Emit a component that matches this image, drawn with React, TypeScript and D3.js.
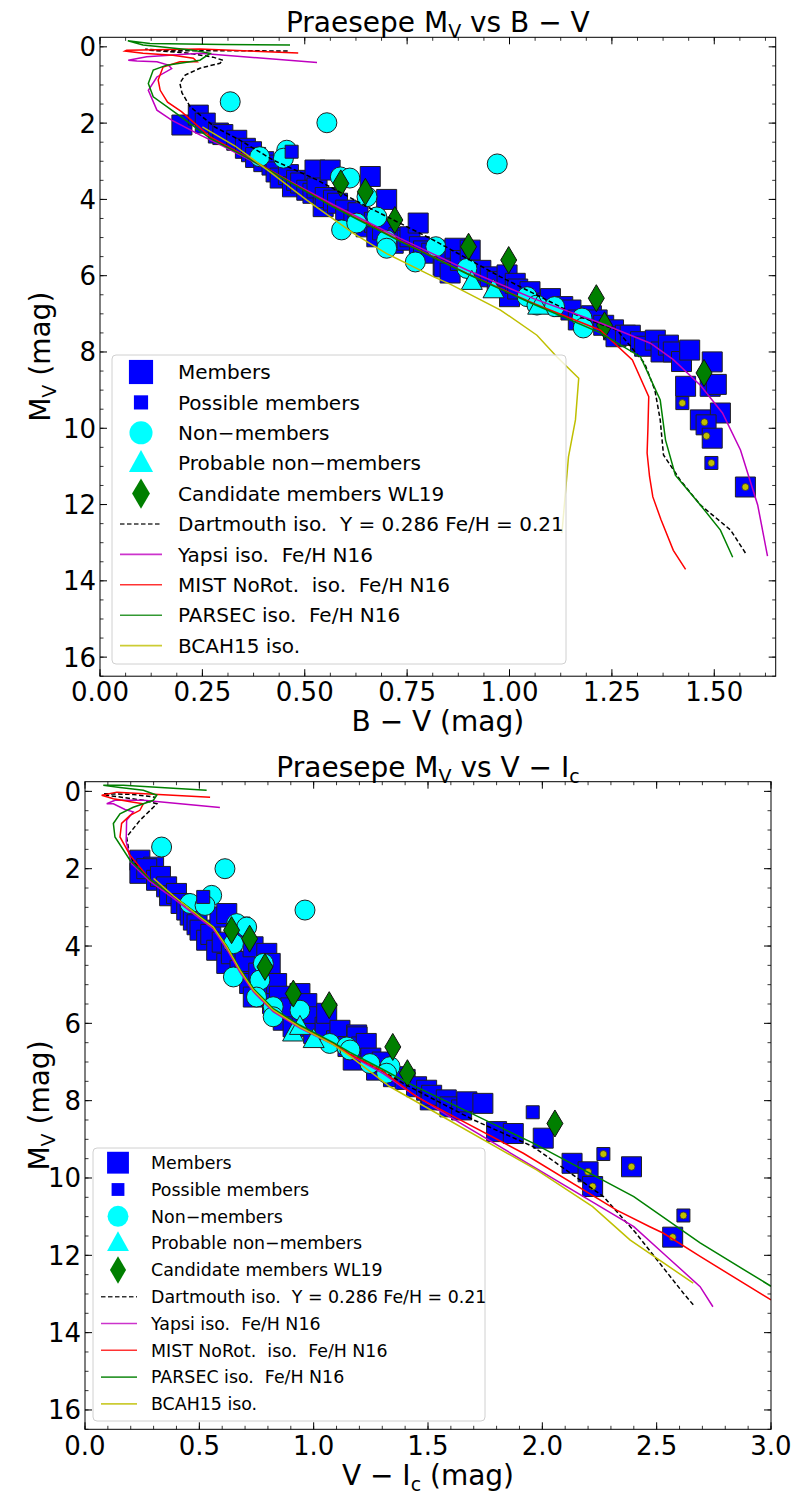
import React from 'react';
import * as d3 from 'd3';

type P = [number, number];

// ================= Top panel: B−V vs Mv =================
const bvMembers: P[] = [
  [0.20, 2.05], [0.24, 1.79], [0.257, 2.0], [0.289, 2.26], [0.30, 2.3], [0.334, 2.45], [0.355, 2.66],
  [0.37, 2.75], [0.38, 2.9], [0.40, 3.01], [0.42, 3.1], [0.43, 3.28], [0.44, 3.44], [0.46, 3.35],
  [0.47, 3.67], [0.48, 3.5], [0.49, 3.57], [0.505, 3.76], [0.52, 3.84], [0.525, 3.23], [0.53, 3.7],
  [0.545, 4.19], [0.55, 3.95], [0.562, 3.23], [0.57, 4.02], [0.58, 4.1], [0.60, 4.28], [0.62, 4.54],
  [0.63, 4.35], [0.65, 4.72], [0.66, 3.4], [0.67, 4.6], [0.676, 4.98], [0.69, 4.8], [0.70, 4.0],
  [0.716, 5.15], [0.73, 5.0], [0.75, 5.07], [0.757, 4.98], [0.777, 4.62], [0.78, 5.24], [0.79, 5.35],
  [0.81, 5.41], [0.838, 5.72], [0.84, 5.77], [0.847, 5.33], [0.855, 5.93], [0.867, 5.28], [0.88, 5.6],
  [0.904, 5.33], [0.92, 5.95], [0.93, 5.86], [0.953, 6.03], [0.97, 6.15], [0.994, 5.98], [1.0, 6.55],
  [1.014, 6.2], [1.02, 6.35], [1.05, 6.42], [1.088, 6.72], [1.10, 6.6], [1.13, 6.81], [1.15, 6.9],
  [1.168, 7.16], [1.20, 7.05], [1.214, 7.16], [1.23, 7.3], [1.254, 7.42], [1.26, 7.6], [1.283, 7.56],
  [1.295, 7.56], [1.32, 7.73], [1.33, 7.85], [1.356, 7.69], [1.37, 8.0], [1.388, 7.82], [1.40, 8.0],
  [1.42, 8.25], [1.44, 7.95], [1.495, 8.26], [1.43, 8.9], [1.49, 8.9], [1.505, 8.85], [1.515, 9.6],
  [1.466, 9.78], [1.48, 9.91], [1.495, 10.26], [1.576, 11.54],
];
const bvPossible: P[] = [[0.468, 2.75], [1.422, 9.34], [1.493, 10.91]];
const bvNonMembers: P[] = [
  [0.318, 1.44], [0.554, 1.99], [0.97, 3.07], [0.39, 2.88], [0.456, 2.71], [0.448, 2.92], [0.587, 3.41],
  [0.61, 3.44], [0.652, 3.93], [0.676, 4.46], [0.59, 4.80], [0.627, 4.62], [0.70, 5.07], [0.70, 5.28],
  [0.77, 5.64], [0.82, 5.24], [0.896, 5.81], [1.043, 6.55], [1.067, 6.77], [1.11, 6.81], [1.177, 7.11],
  [1.18, 7.37],
];
const bvProbable: P[] = [[0.908, 6.16], [0.961, 6.38], [1.07, 6.81]];
const bvCandidates: P[] = [
  [0.588, 3.58], [0.648, 3.8], [0.72, 4.54], [0.90, 5.24], [0.998, 5.59], [1.212, 6.59], [1.232, 7.3], [1.475, 8.55],
];
const bvFlagged: P[] = [[1.422, 9.34], [1.476, 9.84], [1.481, 10.2], [1.493, 10.91], [1.576, 11.54]];

const bvDartmouth: P[] = [
  [1.576, 13.27], [1.54, 12.67], [1.466, 12.01], [1.417, 11.36], [1.376, 10.7], [1.368, 9.78], [1.355, 9.0],
  [1.33, 8.3], [1.263, 7.43], [1.173, 7.08], [0.978, 6.03], [0.815, 5.07], [0.652, 4.19], [0.53, 3.49],
  [0.423, 2.97], [0.342, 2.45], [0.28, 2.1], [0.22, 1.57], [0.2, 1.2], [0.195, 0.95], [0.208, 0.74],
  [0.244, 0.56], [0.293, 0.43], [0.30, 0.35], [0.276, 0.27], [0.212, 0.16], [0.122, 0.09], [0.11, 0.06],
  [0.17, 0.1], [0.30, 0.1], [0.464, 0.11],
];
const bvYapsi: P[] = [
  [1.63, 13.35], [1.606, 12.01], [1.564, 10.57], [1.52, 9.6], [1.466, 8.87], [1.40, 8.2], [1.344, 7.77],
  [1.222, 7.24], [1.059, 6.6], [0.896, 5.85], [0.733, 5.02], [0.57, 4.14], [0.456, 3.48], [0.358, 2.92],
  [0.3, 2.6], [0.244, 2.31], [0.175, 1.92], [0.139, 1.66], [0.118, 1.14], [0.139, 0.79], [0.175, 0.57],
  [0.167, 0.48], [0.139, 0.39], [0.09, 0.37], [0.069, 0.35], [0.114, 0.26], [0.244, 0.17], [0.53, 0.41],
];
const bvMist: P[] = [
  [1.43, 13.7], [1.40, 13.2], [1.37, 12.4], [1.35, 11.8], [1.342, 11.27], [1.336, 10.65], [1.338, 10.0],
  [1.34, 9.17], [1.30, 8.21], [1.222, 7.43], [1.059, 6.73], [0.896, 5.94], [0.733, 5.08], [0.652, 4.63],
  [0.57, 4.19], [0.456, 3.49], [0.358, 2.88], [0.269, 2.36], [0.199, 1.7], [0.165, 1.45], [0.147, 1.14],
  [0.142, 0.87], [0.154, 0.53], [0.195, 0.39], [0.237, 0.39], [0.228, 0.30], [0.178, 0.22], [0.105, 0.17],
  [0.061, 0.11], [0.065, 0.09], [0.244, 0.06], [0.484, 0.16],
];
const bvParsec: P[] = [
  [1.545, 13.38], [1.515, 12.67], [1.466, 12.01], [1.405, 11.23], [1.381, 10.31], [1.368, 9.26],
  [1.32, 8.13], [1.222, 7.5], [1.059, 6.75], [0.896, 5.95], [0.733, 5.1], [0.57, 4.2], [0.456, 3.5],
  [0.358, 2.9], [0.269, 2.4], [0.187, 1.75], [0.13, 1.31], [0.118, 0.96], [0.13, 0.61], [0.163, 0.48],
  [0.244, 0.35], [0.269, 0.17], [0.228, 0.09], [0.147, 0.0], [0.105, -0.05], [0.068, -0.16],
  [0.122, -0.09], [0.30, -0.06], [0.464, -0.05],
];
const bvBcah: P[] = [
  [1.128, 12.75], [1.144, 10.75], [1.161, 9.78], [1.169, 8.69], [1.116, 8.13], [1.067, 7.56],
  [0.978, 6.9], [0.855, 6.22], [0.815, 6.03], [0.70, 5.42], [0.619, 4.89], [0.505, 4.02],
  [0.415, 3.28], [0.33, 2.6], [0.25, 2.1],
];

// ================= Bottom panel: V−Ic vs Mv =================
const viMembers: P[] = [
  [0.24, 1.78], [0.30, 1.96], [0.24, 2.12], [0.27, 2.0], [0.313, 2.30], [0.33, 2.2], [0.357, 2.47],
  [0.37, 2.7], [0.40, 2.64], [0.42, 2.9], [0.445, 3.07], [0.46, 3.2], [0.474, 3.33], [0.49, 3.45],
  [0.503, 3.59], [0.532, 3.85], [0.55, 3.7], [0.576, 4.11], [0.59, 3.25], [0.60, 3.9], [0.62, 3.16],
  [0.62, 4.45], [0.64, 4.2], [0.678, 3.51], [0.678, 4.63], [0.70, 4.4], [0.72, 4.97], [0.735, 4.02],
  [0.736, 5.32], [0.76, 4.7], [0.78, 5.1], [0.795, 4.19], [0.795, 4.80], [0.81, 4.45], [0.82, 5.49],
  [0.838, 4.97], [0.85, 5.3], [0.867, 5.92], [0.90, 5.6], [0.91, 6.09], [0.94, 5.23], [0.95, 5.9],
  [0.97, 5.49], [1.0, 5.83], [1.0, 6.26], [1.05, 6.1], [1.057, 5.74], [1.10, 6.45], [1.115, 6.18],
  [1.15, 6.6], [1.173, 6.95], [1.188, 6.30], [1.19, 6.35], [1.21, 6.61], [1.23, 6.52], [1.25, 6.9],
  [1.275, 7.21], [1.30, 7.0], [1.349, 7.38], [1.40, 7.45], [1.45, 7.64], [1.494, 7.73], [1.51, 7.98],
  [1.516, 7.86], [1.58, 7.98], [1.596, 8.16], [1.647, 8.24], [1.67, 8.03], [1.74, 8.07], [1.80, 8.80],
  [1.873, 8.85], [2.004, 8.97], [2.13, 9.62], [2.20, 9.84], [2.22, 10.22], [2.39, 9.71], [2.57, 11.53],
];
const viPossible: P[] = [[0.517, 2.73], [1.958, 8.30], [2.267, 9.38], [2.617, 10.97]];
const viNonMembers: P[] = [
  [0.335, 1.44], [0.612, 2.0], [0.962, 3.07], [0.459, 2.90], [0.554, 2.69], [0.525, 2.95], [0.663, 3.42],
  [0.707, 3.51], [0.649, 3.94], [0.78, 4.45], [0.649, 4.80], [0.765, 4.88], [0.75, 5.32], [0.823, 5.57],
  [0.94, 5.66], [0.823, 5.83], [1.07, 6.52], [1.145, 6.61], [1.159, 6.69], [1.246, 7.04], [1.334, 7.12],
  [1.319, 7.29],
];
const viProbable: P[] = [[0.91, 6.26], [1.0, 6.43], [0.94, 6.09]];
const viCandidates: P[] = [
  [0.641, 3.59], [0.72, 3.81], [0.787, 4.54], [0.911, 5.23], [1.068, 5.53], [1.346, 6.61], [1.41, 7.29], [2.055, 8.59],
];
const viFlagged: P[] = [[2.20, 9.84], [2.22, 10.22], [2.267, 9.38], [2.39, 9.71], [2.617, 10.97], [2.57, 11.53]];

const viDartmouth: P[] = [
  [2.66, 13.28], [2.617, 12.98], [2.41, 11.43], [2.267, 10.48], [1.96, 9.19], [1.70, 8.5], [1.406, 7.6],
  [1.305, 7.25], [1.159, 6.8], [1.086, 6.54], [0.94, 6.1], [0.823, 5.66], [0.736, 5.14], [0.678, 4.63],
  [0.62, 4.02], [0.561, 3.51], [0.503, 3.25], [0.386, 2.7], [0.284, 2.28], [0.197, 1.72], [0.182, 1.18],
  [0.24, 0.75], [0.299, 0.41], [0.314, 0.32], [0.255, 0.23], [0.095, 0.10], [0.08, 0.06], [0.211, 0.08],
  [0.306, 0.15],
];
const viYapsi: P[] = [
  [2.746, 13.33], [2.69, 12.81], [2.544, 12.03], [2.40, 11.26], [2.18, 10.48], [1.596, 8.42], [1.40, 7.7],
  [1.305, 7.3], [1.159, 6.82], [1.086, 6.55], [0.94, 6.12], [0.823, 5.7], [0.736, 5.18], [0.678, 4.68],
  [0.62, 4.08], [0.561, 3.56], [0.503, 3.3], [0.386, 2.76], [0.284, 2.33], [0.204, 1.87], [0.18, 1.3],
  [0.182, 0.75], [0.211, 0.53], [0.175, 0.47], [0.124, 0.32], [0.095, 0.32], [0.131, 0.23], [0.255, 0.23],
  [0.59, 0.42],
];
const viMist: P[] = [
  [3.0, 13.15], [2.69, 12.03], [2.53, 11.43], [2.47, 11.26], [2.325, 10.83], [1.917, 9.36], [1.45, 7.9],
  [1.305, 7.25], [1.159, 6.8], [1.086, 6.52], [0.94, 6.09], [0.823, 5.66], [0.736, 5.14], [0.678, 4.63],
  [0.62, 4.02], [0.561, 3.51], [0.503, 3.25], [0.386, 2.7], [0.284, 2.28], [0.197, 1.65], [0.153, 1.18],
  [0.16, 0.83], [0.197, 0.62], [0.24, 0.49], [0.255, 0.32], [0.211, 0.28], [0.124, 0.19], [0.073, 0.10],
  [0.139, 0.02], [0.547, 0.15],
];
const viParsec: P[] = [
  [3.0, 12.8], [2.69, 11.68], [2.40, 10.48], [1.96, 9.1], [1.406, 7.52], [1.305, 7.2], [1.159, 6.75],
  [1.086, 6.5], [0.94, 6.05], [0.823, 5.62], [0.736, 5.1], [0.678, 4.6], [0.62, 4.0], [0.561, 3.5],
  [0.503, 3.22], [0.386, 2.7], [0.284, 2.28], [0.197, 1.78], [0.131, 1.18], [0.124, 0.83], [0.153, 0.58],
  [0.211, 0.41], [0.299, 0.23], [0.314, 0.10], [0.255, -0.03], [0.153, -0.10], [0.08, -0.155],
  [0.167, -0.155], [0.532, -0.03],
];
const viBcah: P[] = [
  [2.66, 12.72], [2.383, 11.6], [2.22, 10.74], [1.975, 9.79], [1.334, 7.64], [1.159, 6.85], [1.086, 6.55],
  [0.94, 6.1], [0.823, 5.66], [0.736, 5.14], [0.678, 4.63], [0.62, 4.02], [0.561, 3.51], [0.503, 3.25],
  [0.386, 2.7], [0.30, 2.25],
];

// ================= Ticks & labels =================
const bvMajorTicks = [0, 0.25, 0.5, 0.75, 1.0, 1.25, 1.5];
const viMajorTicks = [0, 0.5, 1.0, 1.5, 2.0, 2.5, 3.0];
const mvMajorTicks = [0, 2, 4, 6, 8, 10, 12, 14, 16];
const legendLabels = [
  'Members',
  'Possible members',
  'Non\u2212members',
  'Probable non\u2212members',
  'Candidate members WL19',
  'Dartmouth iso.  Y = 0.286 Fe/H = 0.21',
  'Yapsi iso.  Fe/H N16',
  'MIST NoRot.  iso.  Fe/H N16',
  'PARSEC iso.  Fe/H N16',
  'BCAH15 iso.',
];

const FONT = '"DejaVu Sans", Verdana, sans-serif';
const C_BLUE = '#0000ff';
const C_CYAN = '#00ffff';
const C_GREEN = '#007f00';
const ISO = [
  { color: '#000000', dash: '4.5,2.5' },
  { color: '#bf00bf', dash: null },
  { color: '#ff0000', dash: null },
  { color: '#008000', dash: null },
  { color: '#bfbf00', dash: null },
];

const sq = (s: number) => `M${-s / 2},${-s / 2}h${s}v${s}h${-s}Z`;
const diamond = (w: number, h: number) => `M0,${-h / 2}L${w / 2},0L0,${h / 2}L${-w / 2},0Z`;
const tri = (w: number, h: number) => `M0,${-h * 0.6}L${w / 2},${h * 0.4}L${-w / 2},${h * 0.4}Z`;

interface Cfg {
  id: string;
  xDomain: [number, number];
  xRange: [number, number];
  yRange: [number, number];
  xMajor: number[];
  xMinorStep: number;
  xFmt: string;
  title: React.ReactNode;
  titleY: number;
  xLabel: React.ReactNode;
  xLabelY: number;
  tickLabelY: number;
  yLabelX: number;
  members: P[];
  possible: P[];
  non: P[];
  probable: P[];
  cand: P[];
  flagged: P[];
  isos: P[][];
  legend: { x: number; y: number; w: number; h: number; row0: number; dy: number; mx: number; l1: number; l2: number; tx: number; fs: number; scale: number };
}

function Panel({ c }: { c: Cfg }) {
  const x = d3.scaleLinear().domain(c.xDomain).range(c.xRange);
  const y = d3.scaleLinear().domain([-0.25, 16.5]).range(c.yRange);
  const [x0, x1] = c.xRange;
  const [y0, y1] = c.yRange;
  const line = d3.line<P>().x((d) => x(d[0])).y((d) => y(d[1]));
  const fmt = d3.format(c.xFmt);
  const xMinor = d3.range(c.xDomain[0], c.xDomain[1] + 1e-9, c.xMinorStep);
  const yMinor = d3.range(0, 16.5 + 1e-9, 0.5);
  const cx = (x0 + x1) / 2;
  const cy = (y0 + y1) / 2;
  const L = c.legend;
  const s = L.scale;
  return (
    <g>
      <defs>
        <clipPath id={`clip-${c.id}`}>
          <rect x={x0} y={y0} width={x1 - x0} height={y1 - y0} />
        </clipPath>
      </defs>
      <g clipPath={`url(#clip-${c.id})`}>
        {c.members.map((d, i) => (
          <path key={`m${i}`} d={sq(20)} transform={`translate(${x(d[0])},${y(d[1])})`} fill={C_BLUE} stroke="#222" strokeWidth={1} />
        ))}
        {c.non.map((d, i) => (
          <circle key={`n${i}`} cx={x(d[0])} cy={y(d[1])} r={10} fill={C_CYAN} stroke="#222" strokeWidth={1} />
        ))}
        {c.probable.map((d, i) => (
          <path key={`p${i}`} d={tri(21, 19)} transform={`translate(${x(d[0])},${y(d[1])})`} fill={C_CYAN} stroke="#222" strokeWidth={1} />
        ))}
        {c.possible.map((d, i) => (
          <path key={`s${i}`} d={sq(13)} transform={`translate(${x(d[0])},${y(d[1])})`} fill={C_BLUE} stroke="#222" strokeWidth={1} />
        ))}
        {c.cand.map((d, i) => (
          <path key={`c${i}`} d={diamond(16, 27)} transform={`translate(${x(d[0])},${y(d[1])})`} fill={C_GREEN} stroke="#111" strokeWidth={1} />
        ))}
        {c.flagged.map((d, i) => (
          <circle key={`f${i}`} cx={x(d[0])} cy={y(d[1])} r={3.5} fill="#bfbf00" stroke="#333" strokeWidth={0.8} />
        ))}
        {c.isos.map((iso, i) => (
          <path key={`i${i}`} d={line(iso) || ''} fill="none" stroke={ISO[i].color} strokeWidth={1.5}
            strokeDasharray={ISO[i].dash || undefined} />
        ))}
      </g>
      {/* frame */}
      <rect x={x0} y={y0} width={x1 - x0} height={y1 - y0} fill="none" stroke="#000" strokeWidth={1} />
      {/* ticks */}
      {xMinor.map((v, i) => (
        <g key={`xm${i}`} stroke="#000" strokeWidth={0.8}>
          <line x1={x(v)} x2={x(v)} y1={y1} y2={y1 - 3.5} />
          <line x1={x(v)} x2={x(v)} y1={y0} y2={y0 + 3.5} />
        </g>
      ))}
      {c.xMajor.map((v, i) => (
        <g key={`xM${i}`}>
          <line x1={x(v)} x2={x(v)} y1={y1} y2={y1 - 7} stroke="#000" strokeWidth={1} />
          <line x1={x(v)} x2={x(v)} y1={y0} y2={y0 + 7} stroke="#000" strokeWidth={1} />
          <text x={x(v)} y={c.tickLabelY} textAnchor="middle" fontSize={26} fontFamily={FONT}>{fmt(v)}</text>
        </g>
      ))}
      {yMinor.map((v, i) => (
        <g key={`ym${i}`} stroke="#000" strokeWidth={0.8}>
          <line x1={x0} x2={x0 + 3.5} y1={y(v)} y2={y(v)} />
          <line x1={x1} x2={x1 - 3.5} y1={y(v)} y2={y(v)} />
        </g>
      ))}
      {mvMajorTicks.map((v, i) => (
        <g key={`yM${i}`}>
          <line x1={x0} x2={x0 + 7} y1={y(v)} y2={y(v)} stroke="#000" strokeWidth={1} />
          <line x1={x1} x2={x1 - 7} y1={y(v)} y2={y(v)} stroke="#000" strokeWidth={1} />
          <text x={x0 - 4} y={y(v) + 9.5} textAnchor="end" fontSize={26} fontFamily={FONT}>{v}</text>
        </g>
      ))}
      {/* titles */}
      <text x={cx} y={c.titleY} textAnchor="middle" fontSize={28} fontFamily={FONT}>{c.title}</text>
      <text x={cx} y={c.xLabelY} textAnchor="middle" fontSize={28} fontFamily={FONT}>{c.xLabel}</text>
      <text transform={`translate(${c.yLabelX},${cy}) rotate(-90)`} textAnchor="middle" fontSize={28} fontFamily={FONT}>
        M<tspan fontSize={19} dy={6}>V</tspan><tspan dy={-6}> (mag)</tspan>
      </text>
      {/* legend */}
      <g>
        <rect x={L.x} y={L.y} width={L.w} height={L.h} rx={4} fill="#fff" fillOpacity={0.8} stroke="#d0d0d0" strokeWidth={1} />
        {legendLabels.map((lab, i) => {
          const ry = L.row0 + i * L.dy;
          let mark: React.ReactNode = null;
          const tr = `translate(${L.mx},${ry})`;
          if (i === 0) mark = <path d={sq(23 * s)} transform={tr} fill={C_BLUE} />;
          else if (i === 1) mark = <path d={sq(13.5 * s)} transform={tr} fill={C_BLUE} />;
          else if (i === 2) mark = <circle cx={L.mx} cy={ry} r={11 * s} fill={C_CYAN} />;
          else if (i === 3) mark = <path d={tri(23 * s, 21 * s)} transform={tr} fill={C_CYAN} />;
          else if (i === 4) mark = <path d={diamond(17 * s, 29 * s)} transform={tr} fill={C_GREEN} />;
          else {
            const st = ISO[i - 5];
            mark = <line x1={L.l1} x2={L.l2} y1={ry} y2={ry} stroke={st.color} strokeOpacity={0.8} strokeWidth={1.6}
              strokeDasharray={st.dash || undefined} />;
          }
          return (
            <g key={`lg${i}`}>
              {mark}
              <text x={L.tx} y={ry + L.fs * 0.36} fontSize={L.fs} fontFamily={FONT} style={{ whiteSpace: 'pre' }}>{lab}</text>
            </g>
          );
        })}
      </g>
    </g>
  );
}

const topCfg: Cfg = {
  id: 'bv',
  xDomain: [0, 1.65],
  xRange: [100, 775.7],
  yRange: [37.3, 676.2],
  xMajor: bvMajorTicks,
  xMinorStep: 0.0625,
  xFmt: '.2f',
  title: (<>Praesepe M<tspan fontSize={19} dy={6}>V</tspan><tspan dy={-6}> vs B − V</tspan></>),
  titleY: 31.5,
  xLabel: 'B − V (mag)',
  xLabelY: 731,
  tickLabelY: 701,
  yLabelX: 50,
  members: bvMembers,
  possible: bvPossible,
  non: bvNonMembers,
  probable: bvProbable,
  cand: bvCandidates,
  flagged: bvFlagged,
  isos: [bvDartmouth, bvYapsi, bvMist, bvParsec, bvBcah],
  legend: { x: 112, y: 355, w: 454, h: 309, row0: 372, dy: 30.4, mx: 141, l1: 120, l2: 162, tx: 178, fs: 20, scale: 1.05 },
};

const bottomCfg: Cfg = {
  id: 'vi',
  xDomain: [0, 3.0],
  xRange: [85, 771],
  yRange: [781.7, 1429.3],
  xMajor: viMajorTicks,
  xMinorStep: 0.1,
  xFmt: '.1f',
  title: (<>Praesepe M<tspan fontSize={19} dy={6}>V</tspan><tspan dy={-6}> vs V − I</tspan><tspan fontSize={19} dy={6}>c</tspan></>),
  titleY: 776.5,
  xLabel: (<>V − I<tspan fontSize={19} dy={6}>c</tspan><tspan dy={-6}> (mag)</tspan></>),
  xLabelY: 1485,
  tickLabelY: 1455,
  yLabelX: 49,
  members: viMembers,
  possible: viPossible,
  non: viNonMembers,
  probable: viProbable,
  cand: viCandidates,
  flagged: viFlagged,
  isos: [viDartmouth, viYapsi, viMist, viParsec, viBcah],
  legend: { x: 93, y: 1148, w: 392, h: 273, row0: 1162.7, dy: 26.8, mx: 118, l1: 101, l2: 137, tx: 151, fs: 17.4, scale: 0.95 },
};

export default function App() {
  return (
    <svg width={795} height={1497} viewBox="0 0 795 1497"
      style={{ position: 'absolute', left: 0, top: 0, background: '#fff' }}>
      <rect x={0} y={0} width={795} height={1497} fill="#fff" />
      <Panel c={topCfg} />
      <Panel c={bottomCfg} />
    </svg>
  );
}
